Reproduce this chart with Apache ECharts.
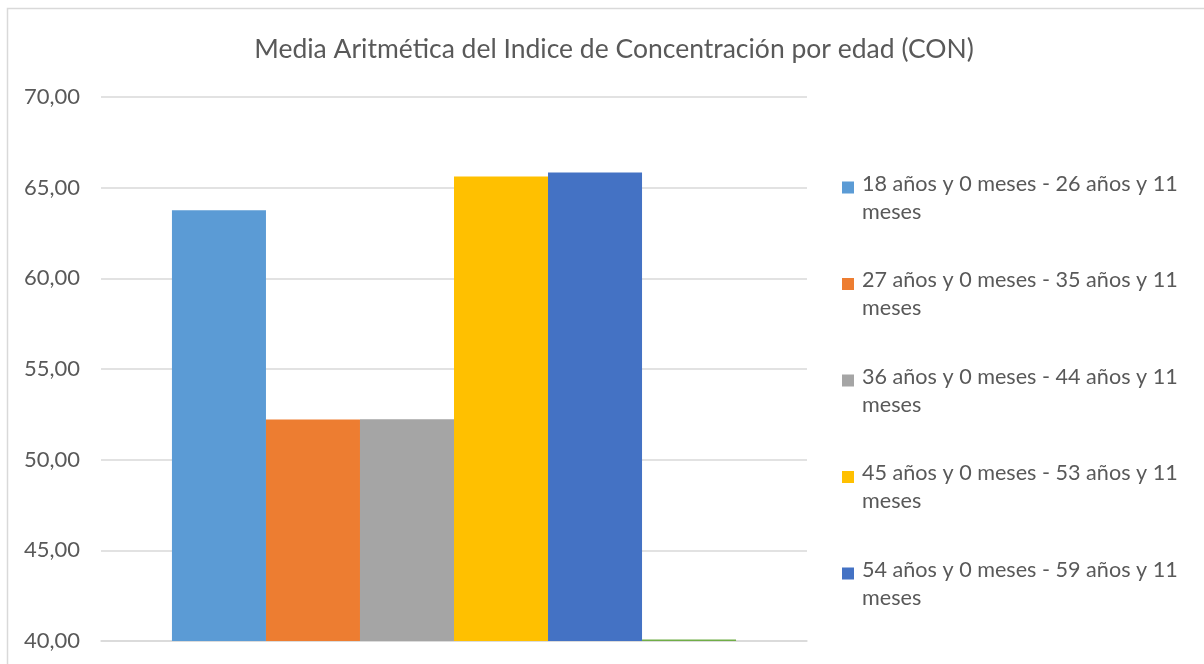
<!DOCTYPE html>
<html>
<head>
<meta charset="utf-8">
<script src="https://cdn.jsdelivr.net/npm/echarts@6/dist/echarts.min.js"></script>
<style>
  html, body { margin: 0; padding: 0; background: #fff; }
  #chart { width: 1204px; height: 664px; }
</style>
</head>
<body>
<div id="chart"></div>
<script>
// Age groups and their mean concentration index (CON)
const categories = [''];
const groupNames = [
  '18 años y 0 meses - 26 años y 11 meses',
  '27 años y 0 meses - 35 años y 11 meses',
  '36 años y 0 meses - 44 años y 11 meses',
  '45 años y 0 meses - 53 años y 11 meses',
  '54 años y 0 meses - 59 años y 11 meses',
  'Otro'
];
const groupValues = [63.75, 52.21, 52.23, 65.62, 65.84, 40.08];
const groupColors = ['#5B9BD5', '#ED7D31', '#A5A5A5', '#FFC000', '#4472C4', '#70AD47'];
const legendNames = groupNames.slice(0, 5);
const yTicks = { min: 40, max: 70, interval: 5 };

const FONT = 'Lato';
const TEXT = '#595959';

// Break each legend name before its last word so it wraps onto two lines
function wrapName(name) {
  const idx = name.lastIndexOf(' ');
  return name.slice(0, idx) + '\n' + name.slice(idx + 1);
}

const chart = echarts.init(document.getElementById('chart'), null, { renderer: 'canvas' });

chart.setOption({
  animation: false,
  backgroundColor: '#fff',
  textStyle: { fontFamily: FONT, color: TEXT },
  title: {
    text: 'Media Aritmética del Indice de Concentración por edad (CON)',
    left: 609,
    textAlign: 'center',
    top: 31,
    textStyle: { fontFamily: FONT, fontSize: 26.5, fontWeight: 'normal', color: TEXT }
  },
  graphic: [{
    type: 'rect',
    shape: { x: 7.5, y: 8.5, width: 1300, height: 700 },
    style: { fill: 'none', stroke: '#D9D9D9', lineWidth: 1.5 },
    silent: true
  }],
  legend: {
    data: legendNames,
    orient: 'vertical',
    left: 837,
    top: 165,
    itemWidth: 12,
    itemHeight: 56,
    itemGap: 40.5,
    // square sits on the first text line; the tiny corner dots fix the icon's box
    icon: 'path://M0,0h0.01v0.01h-0.01z M0,11.5h12v12h-12z M0,56h0.01v0.01h-0.01z',
    formatter: wrapName,
    textStyle: { fontFamily: FONT, fontSize: 21.6, color: TEXT, lineHeight: 28, padding: [0, 0, 0, 3] }
  },
  grid: { left: 101, right: 397, top: 97, bottom: 23, containLabel: false },
  xAxis: {
    type: 'category',
    data: categories,
    axisLine: { show: true, lineStyle: { color: '#D9D9D9', width: 1.5 } },
    axisTick: { show: false },
    axisLabel: { show: false }
  },
  yAxis: {
    type: 'value',
    min: yTicks.min,
    max: yTicks.max,
    interval: yTicks.interval,
    axisLine: { show: false },
    axisTick: { show: false },
    splitLine: { lineStyle: { color: '#D9D9D9', width: 1.5 } },
    axisLabel: {
      margin: 21,
      fontFamily: FONT,
      fontSize: 22,
      color: TEXT,
      formatter: v => v.toFixed(2).replace('.', ',')
    }
  },
  series: groupNames.map((name, i) => ({
    type: 'bar',
    name: name,
    data: [groupValues[i]],
    itemStyle: { color: groupColors[i] },
    barGap: '0%',
    barCategoryGap: '20.1%'
  }))
});
</script>
</body>
</html>
